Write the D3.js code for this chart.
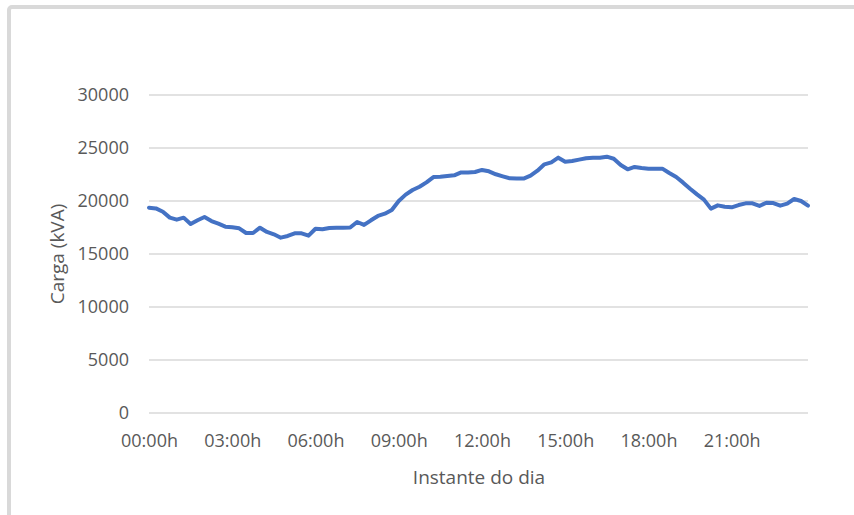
<!DOCTYPE html>
<html>
<head>
<meta charset="utf-8">
<script src="https://cdn.jsdelivr.net/npm/d3@7/dist/d3.min.js"></script>
<style>
  html, body { margin: 0; padding: 0; background: #fff; }
  svg { display: block; }
  text { font-family: "Open Sans", "Noto Sans", sans-serif; fill: #595959; }
</style>
</head>
<body>
<svg id="chart" width="854" height="515"></svg>
<script>
// ---- Data ----
const times = d3.range(96).map(i => {
  const h = Math.floor(i / 4), m = (i % 4) * 15;
  return String(h).padStart(2, "0") + ":" + String(m).padStart(2, "0") + "h";
});
const carga = [
  19370, 19300, 18990, 18430, 18240, 18430, 17830, 18180, 18490, 18110, 17860, 17580,
  17520, 17420, 16980, 16980, 17480, 17080, 16860, 16540, 16700, 16950, 16950, 16730,
  17380, 17330, 17450, 17480, 17480, 17500, 18020, 17740, 18180, 18590, 18800, 19150,
  20000, 20600, 21040, 21350, 21760, 22260, 22290, 22360, 22420, 22700, 22700, 22740,
  22930, 22800, 22520, 22330, 22140, 22120, 22120, 22390, 22860, 23460, 23650, 24090,
  23710, 23770, 23900, 24030, 24090, 24090, 24180, 23990, 23400, 22990, 23210, 23110,
  23050, 23050, 23050, 22640, 22260, 21730, 21160, 20630, 20130, 19280, 19590, 19460,
  19400, 19620, 19780, 19780, 19530, 19840, 19810, 19560, 19750, 20190, 20000, 19560
];
const xTickLabels = ["00:00h", "03:00h", "06:00h", "09:00h", "12:00h", "15:00h", "18:00h", "21:00h"];
const yTickValues = [0, 5000, 10000, 15000, 20000, 25000, 30000];
const xTitle = "Instante do dia";
const yTitle = "Carga (kVA)";

// ---- Layout ----
const svg = d3.select("#chart");
const pLeft = 149, pRight = 808, pTop = 95, pBottom = 413;

// chart frame
svg.append("rect")
  .attr("x", 9).attr("y", 7).attr("width", 1000).attr("height", 1000)
  .attr("rx", 3)
  .attr("fill", "none").attr("stroke", "#d9d9d9").attr("stroke-width", 4);

const x = d3.scalePoint().domain(times).range([pLeft, pRight]);
const y = d3.scaleLinear().domain([0, 30000]).range([pBottom, pTop]);

// gridlines
svg.append("g").selectAll("line").data(yTickValues).join("line")
  .attr("x1", pLeft).attr("x2", pRight)
  .attr("y1", d => y(d)).attr("y2", d => y(d))
  .attr("stroke", "#d9d9d9").attr("stroke-width", 1.5);

// y axis
const yAxis = svg.append("g")
  .attr("transform", `translate(${pLeft - 20},0)`)
  .call(d3.axisLeft(y).tickValues(yTickValues).tickSize(0).tickPadding(0).tickFormat(d3.format("d")));
yAxis.select(".domain").remove();
yAxis.selectAll("text")
  .style("font-family", '"Open Sans", sans-serif')
  .style("font-size", "18px").attr("fill", "#595959");

// x axis
const xAxis = svg.append("g")
  .attr("transform", `translate(0,${pBottom + 21})`)
  .call(d3.axisBottom(x).tickValues(xTickLabels).tickSize(0).tickPadding(0));
xAxis.select(".domain").remove();
xAxis.selectAll("text")
  .style("font-family", '"Open Sans", sans-serif')
  .style("font-size", "18px").attr("fill", "#595959");

// line
const line = d3.line()
  .x((d, i) => x(times[i]))
  .y(d => y(d));
svg.append("path")
  .datum(carga)
  .attr("d", line)
  .attr("fill", "none")
  .attr("stroke", "#4472C4")
  .attr("stroke-width", 4)
  .attr("stroke-linejoin", "round")
  .attr("stroke-linecap", "round");

// axis titles
svg.append("text")
  .attr("x", 479).attr("y", 484)
  .attr("text-anchor", "middle")
  .style("font-size", "19px")
  .text(xTitle);

svg.append("text")
  .attr("transform", `translate(64,254) rotate(-90)`)
  .attr("text-anchor", "middle")
  .style("font-size", "19px")
  .text(yTitle);
</script>
</body>
</html>
